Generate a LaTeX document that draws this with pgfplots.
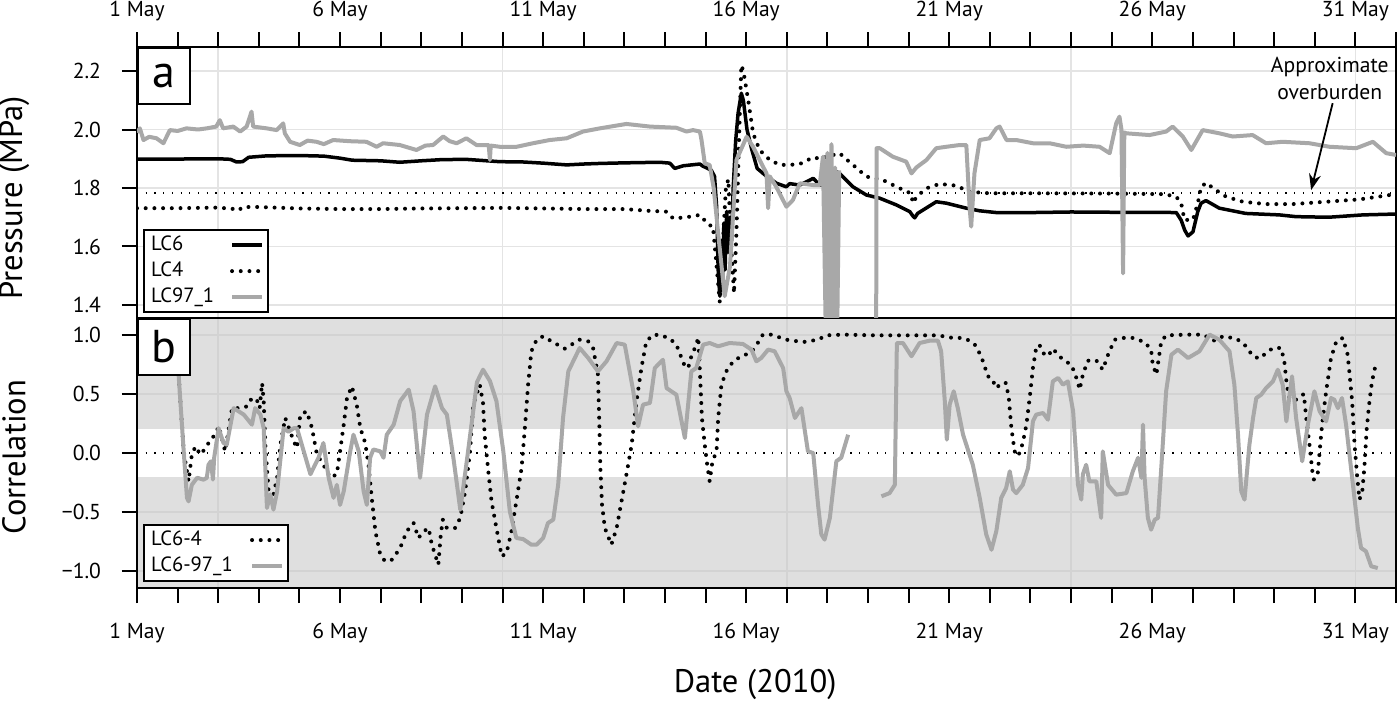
\documentclass[border=0pt]{standalone}
\usepackage{fontspec}
\setmainfont{PT Sans}
\usepackage{pgfplots}
\pgfplotsset{compat=1.18}
\usetikzlibrary{arrows.meta}
\definecolor{greyline}{HTML}{A8A8A8}
\definecolor{band}{HTML}{DFDFDF}
\definecolor{gridtop}{HTML}{E4E4E4}
\definecolor{gridbot}{HTML}{D3D3D3}
\newcommand{\tickfont}{\fontsize{10.8bp}{13bp}\selectfont}
\newcommand{\legfont}{\fontsize{10.3bp}{12bp}\selectfont}
\pgfplotsset{
  panel/.style={
    set layers,
    scale only axis, width=629.5bp,
    xmin=0, xmax=31,
    axis line style={line width=1bp},
    every tick/.style={line width=1bp, black},
    major tick length=7.5bp, minor tick length=7.5bp,
    tick align=outside,
    xtick={0,5,10,15,20,25,30},
    minor xtick={0,1,...,31},
    xticklabels={1 May,6 May,11 May,16 May,21 May,26 May,31 May},
    extra x ticks={2,9,16,23,30},
    extra x tick labels={},
    extra x tick style={grid=major},
    ytick pos=left,
    yticklabel style={xshift=-7bp},
    ticklabel style={font=\tickfont},
    label style={font=\fontsize{16.3bp}{19bp}\selectfont},
    unbounded coords=jump,
    legend cell align=left,
    legend plot pos=right,
    legend image code/.code={\draw[##1] (0bp,0bp) -- (15bp,0bp);},
  },
  blk/.style={black, line width=1.75bp, line join=round},
  dots/.style={black, line width=2bp, line cap=round, dash pattern=on 0bp off 4.35bp},
  gry/.style={greyline, line width=2bp, line join=round},
  refline/.style={black, line width=0.6bp, dash pattern=on 0.6bp off 3.75bp},
}
\begin{document}
\begin{tikzpicture}
% ---------------- top panel -----------------
\begin{axis}[panel, at={(0,135bp)}, anchor=south west, height=135.5bp,
  ymin=1.3555, ymax=2.2821,
  xtick pos=right, xticklabel pos=right,
  xticklabel shift=2bp,
  ytick={1.4,1.6,1.8,2.0,2.2}, yticklabels={1.4,1.6,1.8,2.0,2.2},
  ymajorgrids,
  major grid style={gridtop, line width=0.8bp},
  ylabel={Pressure (MPa)},
  ylabel style={at={(axis description cs:-0.0977,0.443)}, anchor=center},
  legend style={at={(axis description cs:0.0048,0.018)}, anchor=south west,
    draw=black, line width=1bp, fill=white, font=\legfont,
    inner xsep=2bp, inner ysep=1bp, row sep=0bp,
    nodes={inner sep=1.5bp, text height=7.5bp, text depth=2.5bp}},
]
\addplot[refline, forget plot] coordinates {(0,1.783) (31,1.783)};
\addplot[blk] coordinates {
(0,1.899) (1,1.899) (2,1.900) (2.3,1.898) (2.45,1.889) (2.6,1.890) (2.75,1.905) (3.2,1.910) (4.0,1.911) (4.6,1.909) (5.0,1.902) (5.3,1.895) (6.0,1.893) (6.47,1.888) (7.0,1.893) (7.5,1.897) (8.1,1.898) (8.93,1.890) (9.5,1.889) (10.0,1.885) (10.58,1.879) (11.0,1.882) (11.4,1.884) (12.0,1.886) (12.87,1.888) (13.12,1.885) (13.24,1.867) (13.45,1.876) (13.86,1.882) (13.93,1.875) (14.14,1.861) (14.22,1.84) (14.27,1.74) (14.31,1.52) (14.35,1.43) (14.38,1.62) (14.41,1.45) (14.45,1.68) (14.48,1.52) (14.52,1.72) (14.56,1.58) (14.60,1.70) (14.64,1.62) (14.68,1.80) (14.74,1.96) (14.80,2.055) (14.88,2.124) (14.93,2.10) (15.02,2.00) (15.14,1.93) (15.27,1.867) (15.51,1.839) (15.75,1.816) (15.99,1.804) (16.07,1.815) (16.32,1.81) (16.65,1.833) (16.81,1.81) (16.97,1.812) (17.22,1.856) (17.30,1.85) (17.63,1.804) (17.96,1.776) (18.29,1.765) (18.70,1.742) (19.03,1.719) (19.10,1.705) (19.15,1.698) (19.22,1.713) (19.68,1.753) (19.93,1.748) (20.42,1.731) (20.75,1.722) (21.16,1.716) (22.03,1.716) (23.0,1.718) (24.03,1.717) (25.0,1.717) (25.59,1.716) (25.71,1.690) (25.80,1.655) (25.88,1.636) (26.0,1.650) (26.12,1.720) (26.20,1.748) (26.32,1.757) (26.65,1.731) (27.3,1.713) (28.13,1.708) (28.54,1.702) (29.34,1.700) (30.18,1.708) (31.0,1.711)
};
\addlegendentry{\makebox[38bp][l]{LC6}}
\addplot[dots] coordinates {
(0,1.731) (1,1.731) (2,1.733) (2.4,1.728) (2.5,1.723) (2.6,1.735) (3,1.735) (4,1.730) (5,1.728) (6,1.728) (7,1.730) (8,1.731) (9,1.732) (10,1.730) (11,1.728) (12,1.728) (12.6,1.722) (13.04,1.719) (13.2,1.696) (13.53,1.700) (13.86,1.708) (14.08,1.673) (14.18,1.67) (14.26,1.55) (14.35,1.41) (14.42,1.60) (14.50,1.80) (14.56,1.83) (14.63,1.60) (14.70,1.44) (14.76,1.65) (14.82,1.95) (14.88,2.22) (14.93,2.20) (15.05,2.10) (15.17,1.987) (15.33,1.93) (15.58,1.896) (15.83,1.879) (16.07,1.879) (16.32,1.882) (16.65,1.905) (16.81,1.90) (17.30,1.919) (17.45,1.90) (17.63,1.879) (17.96,1.839) (18.37,1.827) (18.78,1.799) (19.05,1.782) (19.11,1.748) (19.19,1.77) (19.44,1.799) (19.76,1.814) (20.17,1.808) (20.50,1.787) (20.99,1.782) (22,1.782) (24,1.781) (25.3,1.779) (25.59,1.770) (25.71,1.748) (25.79,1.691) (26.00,1.691) (26.12,1.748) (26.20,1.804) (26.33,1.818) (26.49,1.80) (26.82,1.770) (27.23,1.753) (27.80,1.745) (28.46,1.745) (29.28,1.753) (30.10,1.761) (31.0,1.779)
};
\addlegendentry{\makebox[38bp][l]{LC4}}
\addplot[gry] coordinates {
(0,1.99) (0.07,2.004) (0.16,1.964) (0.3,1.975) (0.48,1.97) (0.65,1.953) (0.81,1.998) (1.0,1.995) (1.22,2.004) (1.5,2.0) (1.72,2.004) (1.95,2.01) (2.04,2.032) (2.12,2.004) (2.37,2.01) (2.54,1.993) (2.70,2.01) (2.82,2.061) (2.86,2.01) (3.19,2.004) (3.44,1.998) (3.60,2.021) (3.64,1.987) (3.77,1.958) (4.01,1.947) (4.2,1.962) (4.42,1.958) (4.6,1.95) (4.83,1.964) (5.24,1.96) (5.65,1.958) (5.90,1.941) (6.06,1.953) (6.47,1.947) (6.88,1.93) (7.1,1.945) (7.29,1.947) (7.54,1.976) (7.7,1.96) (7.87,1.953) (8.11,1.97) (8.36,1.947) (8.66,1.947) (8.69,1.896) (8.71,1.945) (8.93,1.941) (9.35,1.941) (9.75,1.953) (10.16,1.964) (10.58,1.970) (10.98,1.993) (11.40,2.004) (12.05,2.019) (12.63,2.010) (13.28,2.006) (13.53,1.993) (13.69,1.998) (13.86,1.993) (13.90,1.964) (13.98,1.884) (14.10,1.879) (14.20,1.80) (14.31,1.645) (14.47,1.43) (14.60,1.531) (14.76,1.896) (15.01,1.975) (15.17,1.941) (15.33,1.896) (15.50,1.85) (15.54,1.731) (15.58,1.84) (15.74,1.804) (15.99,1.736) (16.15,1.759) (16.32,1.816) (16.65,1.81) (16.81,1.81) (16.89,1.907) (16.96,1.30) (17.0,1.92) (17.06,1.30) (17.10,1.95) (17.15,1.30) (17.19,1.87) (17.24,1.30) (17.29,1.86) (17.3,nan) (18.20,1.30) (18.21,1.936) (18.29,1.936) (18.61,1.907) (18.94,1.89) (19.07,1.85) (19.19,1.87) (19.44,1.896) (19.68,1.936) (19.93,1.941) (20.26,1.947) (20.42,1.947) (20.50,1.736) (20.54,1.668) (20.62,1.85) (20.75,1.964) (20.99,1.97) (21.16,2.004) (21.24,2.01) (21.41,1.964) (21.65,1.964) (22.06,1.953) (22.47,1.953) (22.88,1.941) (23.3,1.945) (23.70,1.941) (23.95,1.919) (24.11,2.021) (24.19,2.044) (24.24,2.0) (24.28,1.508) (24.31,1.99) (24.36,1.987) (24.93,1.981) (25.34,1.993) (25.50,2.010) (25.75,1.976) (25.96,1.93) (26.24,1.998) (26.65,1.987) (26.98,1.976) (27.47,1.981) (27.80,1.953) (28.21,1.958) (28.87,1.953) (29.36,1.941) (30.02,1.936) (30.43,1.958) (30.76,1.919) (31.0,1.913)
};
\addlegendentry{\makebox[38bp][l]{LC97\_1}}
\draw[line width=0.9bp, -{Stealth[length=8bp, width=6bp]}] (axis cs:29.44,2.09) -- (axis cs:28.91,1.793);
\node[align=center, font=\tickfont, inner sep=0pt] at (axis cs:29.37,2.176) {Approximate\\[0.5bp]overburden};
\node[draw, line width=1bp, fill=white, anchor=north west, minimum width=25.85bp, minimum height=28bp, inner sep=0pt, font=\fontsize{23bp}{23bp}\selectfont] at (rel axis cs:0,1) {a};
\end{axis}
% ---------------- bottom panel -----------------
\begin{axis}[panel, at={(0,0)}, anchor=south west, height=135bp,
  ymin=-1.144, ymax=1.144,
  xtick pos=left, xticklabel pos=left,
  xticklabel shift=6.5bp,
  ytick={-1,-0.5,0,0.5,1}, yticklabels={−1.0,−0.5,0.0,0.5,1.0},
  extra y ticks={-1,-0.5,0.5,1}, extra y tick labels={},
  extra y tick style={grid=major},
  major grid style={gridbot, line width=0.8bp},
  ylabel={Correlation},
  ylabel style={at={(axis description cs:-0.0977,0.485)}, anchor=center},
  xlabel={Date (2010)},
  xlabel style={at={(axis description cs:0.491,-0.359)}, anchor=center},
  legend style={at={(axis description cs:0.0048,0.022)}, anchor=south west,
    draw=black, line width=1bp, fill=white, font=\legfont,
    inner xsep=2bp, inner ysep=1bp, row sep=0bp,
    nodes={inner sep=1.5bp, text height=7.5bp, text depth=2.5bp}},
]
\begin{pgfonlayer}{axis background}
\fill[band] (axis cs:0,0.2) rectangle (axis cs:31,1.144);
\fill[band] (axis cs:0,-0.2) rectangle (axis cs:31,-1.144);
\end{pgfonlayer}
\addplot[refline, forget plot] coordinates {(0,0) (31,0)};
\addplot[dots] coordinates {
(1.0,0.95) (1.03,0.636) (1.15,0.014) (1.27,-0.24) (1.35,-0.014) (1.44,0.056) (1.56,-0.014) (1.72,0.056) (1.80,0.113) (1.93,0.155) (2.01,0.226) (2.09,0.127) (2.17,0.014) (2.34,0.38) (2.54,0.38) (2.71,0.395) (2.83,0.466) (2.95,0.452) (3.02,0.38) (3.08,0.593) (3.12,0.44) (3.16,0.07) (3.24,-0.325) (3.36,-0.353) (3.45,-0.21) (3.53,0.07) (3.65,0.297) (3.77,0.184) (3.86,0.099) (3.94,0.042) (4.02,0.325) (4.18,0.353) (4.31,0.21) (4.43,-0.014) (4.59,-0.10) (4.76,-0.21) (4.92,-0.18) (5.00,0.014) (5.09,0.24) (5.17,0.466) (5.29,0.565) (5.41,0.41) (5.50,0.21) (5.62,0.085) (5.70,-0.10) (5.78,-0.38) (5.87,-0.664) (5.99,-0.862) (6.11,-0.918) (6.28,-0.904) (6.48,-0.805) (6.64,-0.664) (6.81,-0.593) (6.93,-0.72) (7.06,-0.664) (7.18,-0.636) (7.26,-0.777) (7.34,-0.862) (7.42,-0.946) (7.48,-0.69) (7.53,-0.565) (7.63,-0.636) (7.83,-0.636) (7.96,-0.55) (8.08,-0.325) (8.20,0.014) (8.28,0.41) (8.44,0.579) (8.52,0.424) (8.56,0.155) (8.65,-0.155) (8.73,-0.41) (8.85,-0.636) (8.98,-0.876) (9.10,-0.847) (9.22,-0.664) (9.34,-0.41) (9.47,-0.127) (9.55,0.21) (9.63,0.579) (9.71,0.862) (9.84,0.96) (10.0,0.989) (10.21,0.946) (10.53,0.884) (10.90,0.96) (11.11,0.946) (11.23,0.89) (11.35,0.664) (11.38,0.297) (11.41,-0.127) (11.45,-0.438) (11.52,-0.636) (11.68,-0.777) (11.81,-0.636) (11.93,-0.41) (12.05,-0.184) (12.18,0.07) (12.30,0.438) (12.42,0.72) (12.54,0.946) (12.71,1.003) (12.91,0.997) (13.12,0.969) (13.28,0.918) (13.49,0.734) (13.57,0.72) (13.65,0.82) (13.77,0.918) (13.82,0.98) (13.86,0.692) (13.91,0.297) (13.98,0.07) (14.04,-0.10) (14.10,-0.24) (14.17,-0.07) (14.27,0.014) (14.31,0.297) (14.39,0.579) (14.51,0.692) (14.68,0.777) (14.88,0.82) (15.09,0.847) (15.21,0.89) (15.41,1.003) (15.62,1.003) (15.99,0.96) (16.40,0.94) (16.77,0.96) (16.97,0.997) (17.38,1.003) (18.20,0.997) (19.03,0.997) (19.72,0.997) (20.09,0.975) (20.34,0.975) (20.54,0.946) (20.67,0.904) (20.83,0.777) (20.95,0.65) (21.04,0.636) (21.16,0.55) (21.28,0.593) (21.40,0.593) (21.47,0.452) (21.53,0.21) (21.61,0.014) (21.67,-0.028) (21.73,0.0) (21.81,0.085) (21.90,0.24) (21.98,0.466) (22.06,0.72) (22.14,0.89) (22.22,0.918) (22.31,0.847) (22.43,0.82) (22.55,0.884) (22.68,0.833) (22.80,0.79) (23.00,0.749) (23.09,0.678) (23.17,0.593) (23.21,0.537) (23.29,0.664) (23.41,0.782) (23.62,0.785) (23.78,0.706) (23.91,0.833) (24.07,0.96) (24.28,0.975) (24.52,0.975) (24.81,0.94) (24.97,0.876) (25.01,0.749) (25.10,0.664) (25.16,0.805) (25.22,0.946) (25.34,0.997) (25.83,1.003) (26.24,1.003) (26.53,0.952) (26.74,0.989) (27.07,0.969) (27.27,0.918) (27.48,0.82) (27.64,0.8) (27.80,0.847) (27.97,0.89) (28.17,0.89) (28.25,0.777) (28.31,0.579) (28.38,0.452) (28.54,0.452) (28.73,0.5) (28.79,0.297) (28.87,0.07) (28.94,-0.155) (28.98,-0.226) (29.07,-0.184) (29.12,0.014) (29.18,0.24) (29.28,0.523) (29.40,0.805) (29.53,0.946) (29.69,0.975) (29.81,0.833) (29.92,0.438) (29.98,0.07) (30.04,-0.184) (30.10,-0.395) (30.17,-0.325) (30.22,-0.127) (30.28,0.21) (30.35,0.452) (30.41,0.607) (30.49,0.734)
};
\addlegendentry{\makebox[48bp][l]{LC6-4}}
\addplot[gry] coordinates {
(1.0,0.95) (1.03,0.636) (1.15,0.014) (1.23,-0.38) (1.27,-0.41) (1.35,-0.27) (1.48,-0.21) (1.64,-0.226) (1.72,-0.21) (1.76,-0.10) (1.82,-0.07) (1.87,-0.226) (1.90,-0.04) (2.01,0.21) (2.13,0.085) (2.21,0.07) (2.38,0.38) (2.63,0.325) (2.83,0.24) (2.91,0.38) (3.04,0.325) (3.12,0.21) (3.20,-0.466) (3.28,-0.35) (3.36,-0.48) (3.45,-0.325) (3.61,0.21) (3.73,0.18) (3.86,0.21) (3.94,0.21) (4.27,-0.18) (4.47,-0.04) (4.59,0.085) (4.72,-0.21) (4.84,-0.38) (4.92,-0.27) (5.00,-0.44) (5.09,-0.325) (5.25,0.014) (5.33,0.155) (5.46,0.014) (5.58,-0.325) (5.66,-0.44) (5.74,-0.04) (5.82,0.03) (5.99,0.014) (6.07,-0.04) (6.15,0.155) (6.32,0.24) (6.48,0.44) (6.69,0.537) (6.81,0.353) (6.97,-0.21) (7.14,0.325) (7.34,0.565) (7.51,0.38) (7.63,0.325) (7.79,-0.04) (7.96,-0.48) (8.12,-0.07) (8.37,0.60) (8.52,0.706) (8.69,0.61) (8.85,0.44) (9.02,0.014) (9.18,-0.494) (9.34,-0.72) (9.51,-0.73) (9.71,-0.777) (9.84,-0.777) (10.0,-0.72) (10.12,-0.593) (10.25,-0.565) (10.37,-0.27) (10.49,0.297) (10.62,0.692) (10.90,0.89) (11.11,0.805) (11.35,0.692) (11.56,0.777) (11.81,0.932) (12.01,0.918) (12.22,0.523) (12.34,0.226) (12.46,0.41) (12.63,0.424) (12.75,0.72) (12.95,0.79) (13.04,0.55) (13.28,0.494) (13.49,0.127) (13.65,0.692) (13.77,0.72) (13.94,0.918) (14.10,0.932) (14.31,0.904) (14.59,0.932) (14.92,0.924) (15.13,0.876) (15.25,0.777) (15.37,0.805) (15.54,0.876) (15.70,0.862) (15.91,0.72) (15.99,0.523) (16.07,0.466) (16.20,0.297) (16.36,0.38) (16.52,0.014) (16.65,0.0) (16.77,-0.44) (16.85,-0.69) (16.93,-0.734) (17.06,-0.55) (17.22,-0.07) (17.34,-0.04) (17.51,0.155) (17.52,nan) (18.33,-0.367) (18.53,-0.34) (18.66,-0.27) (18.71,0.932) (18.86,0.932) (19.07,0.82) (19.27,0.932) (19.52,0.952) (19.72,0.952) (19.80,0.862) (19.89,0.44) (19.94,0.113) (20.01,0.41) (20.11,0.523) (20.21,0.38) (20.34,0.155) (20.58,-0.10) (20.75,-0.38) (20.91,-0.69) (21.04,-0.82) (21.16,-0.66) (21.28,-0.38) (21.40,-0.297) (21.49,-0.155) (21.57,-0.31) (21.65,-0.34) (21.81,-0.27) (21.94,-0.127) (22.06,0.268) (22.14,0.325) (22.31,0.339) (22.43,0.282) (22.55,0.607) (22.68,0.636) (22.80,0.579) (22.92,0.607) (23.05,0.353) (23.17,-0.27) (23.25,-0.395) (23.29,-0.18) (23.37,-0.10) (23.45,-0.24) (23.62,-0.24) (23.74,-0.55) (23.78,0.014) (23.91,-0.27) (24.11,-0.353) (24.36,-0.34) (24.52,-0.155) (24.65,-0.04) (24.73,-0.21) (24.77,0.24) (24.81,-0.21) (24.89,-0.55) (24.97,-0.65) (25.06,-0.565) (25.14,-0.55) (25.22,-0.127) (25.34,0.523) (25.47,0.833) (25.63,0.876) (25.88,0.805) (26.16,0.862) (26.41,1.003) (26.65,0.96) (26.90,0.862) (27.02,0.579) (27.11,0.155) (27.19,-0.325) (27.27,-0.395) (27.39,0.07) (27.48,0.297) (27.56,0.466) (27.68,0.494) (27.80,0.55) (27.97,0.607) (28.09,0.706) (28.21,0.579) (28.30,0.268) (28.38,0.494) (28.44,0.65) (28.54,0.297) (28.69,-0.07) (28.83,0.24) (28.99,0.523) (29.12,0.353) (29.28,0.268) (29.40,0.466) (29.48,0.452) (29.57,0.38) (29.67,0.466) (29.77,0.24) (29.94,-0.27) (30.06,-0.636) (30.14,-0.805) (30.26,-0.833) (30.39,-0.96) (30.55,-0.975)
};
\addlegendentry{\makebox[48bp][l]{LC6-97\_1}}
\node[draw, line width=1bp, fill=white, anchor=north west, minimum width=25.85bp, minimum height=28bp, inner sep=0pt, font=\fontsize{23bp}{23bp}\selectfont] at (rel axis cs:0,1) {b};
\end{axis}
\pgfresetboundingbox
\path[use as bounding box] (-68.5bp,-57.5bp) rectangle (631.5bp,294bp);
\end{tikzpicture}
\end{document}
